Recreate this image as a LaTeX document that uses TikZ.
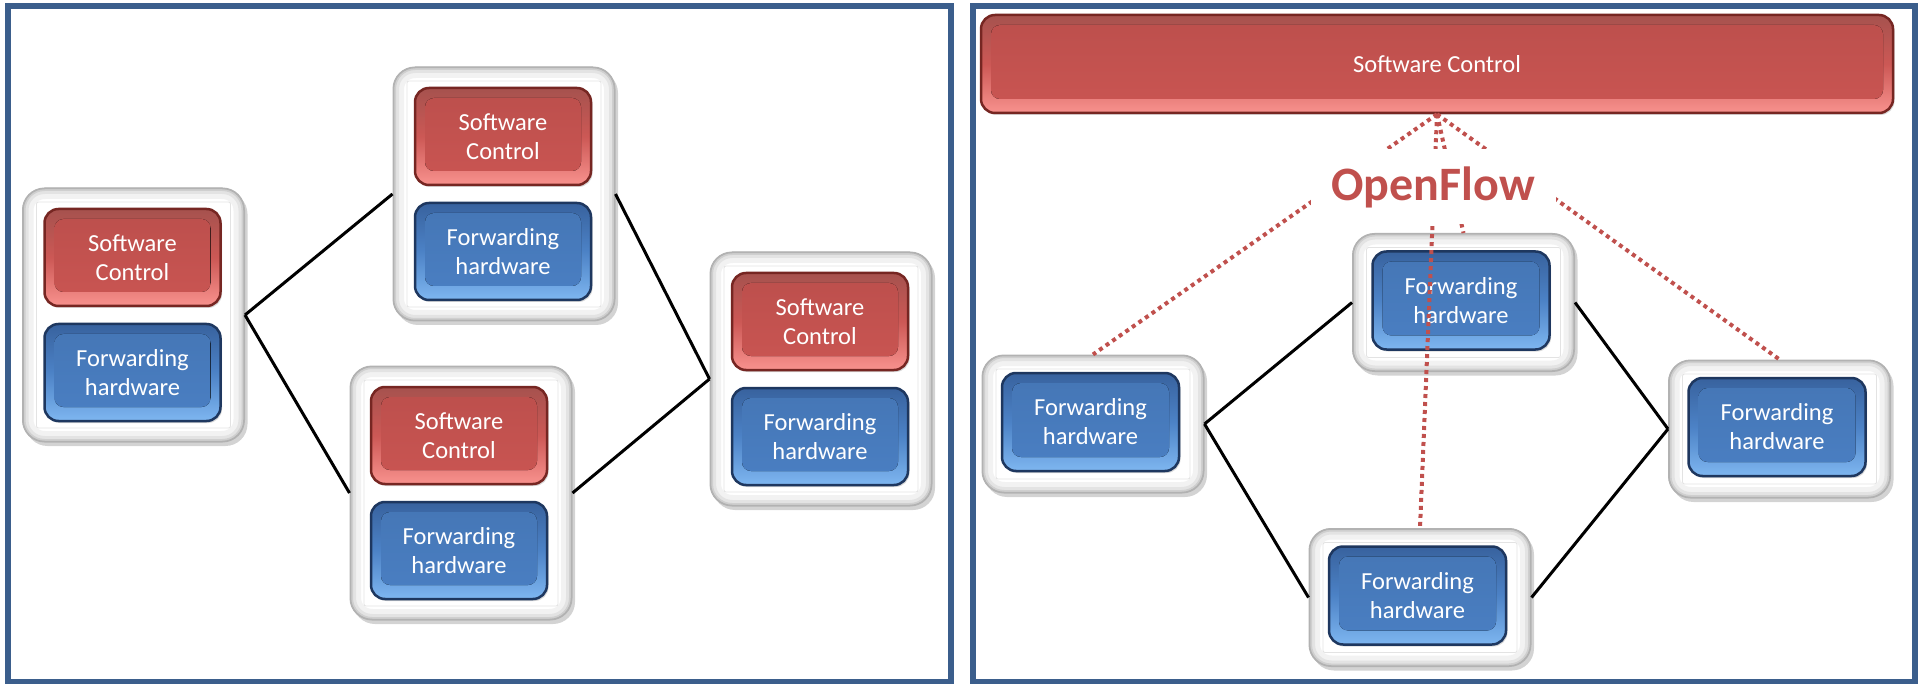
\documentclass[tikz,border=0pt]{standalone}
\usepackage{fontspec}
\newfontfamily\carlito{Carlito}
\usetikzlibrary{calc,shadows}

\definecolor{panelblue}{RGB}{59,94,140}
\definecolor{redtop}{RGB}{166,82,78}
\definecolor{redmid}{RGB}{204,88,85}
\definecolor{redface}{RGB}{202,85,82}
\definecolor{redbot}{RGB}{248,146,142}
\definecolor{redline}{RGB}{118,38,34}
\definecolor{bluetop}{RGB}{56,98,158}
\definecolor{bluemid}{RGB}{76,130,198}
\definecolor{blueface}{RGB}{74,127,195}
\definecolor{bluebot}{RGB}{126,182,240}
\definecolor{blueline}{RGB}{30,55,95}
\definecolor{ofred}{RGB}{192,80,77}

\tikzset{
  panel/.style={draw=panelblue, line width=6pt},
  % white pillow frame around a switch
  frame/.style={rounded corners=22pt, fill=white, draw=gray!60, line width=1pt, inner sep=0pt,
    drop shadow={shadow xshift=3pt, shadow yshift=-4pt, opacity=.35},
    path picture={
      \draw[gray!10, line width=22pt, rounded corners=22pt]
        (path picture bounding box.south west) rectangle (path picture bounding box.north east);
      \draw[gray!22, line width=12pt, rounded corners=22pt]
        (path picture bounding box.south west) rectangle (path picture bounding box.north east);
      \draw[gray!38, line width=6pt, rounded corners=22pt]
        (path picture bounding box.south west) rectangle (path picture bounding box.north east);
      \draw[gray!60, line width=2.5pt, rounded corners=22pt]
        (path picture bounding box.south west) rectangle (path picture bounding box.north east);
      \draw[gray!22, line width=.8pt, rounded corners=2pt]
        ([shift={(14pt,-14pt)}]path picture bounding box.north west) rectangle
        ([shift={(-14pt,14pt)}]path picture bounding box.south east);
    }},
  lframe/.style={frame, minimum width=222pt, minimum height=254pt},
  rframe/.style={frame, minimum width=222pt, minimum height=138pt},
  % glossy bevelled buttons
  btn/.style={rounded corners=14pt, line width=2.5pt, inner sep=0pt, text=white, align=center,
    font=\carlito\fontsize{24.5}{29}\selectfont,
    drop shadow={shadow xshift=1.5pt, shadow yshift=-2pt, opacity=.3}},
  redbtn/.style={btn, draw=redline, top color=redtop, bottom color=redbot, middle color=redmid,
    path picture={
      \fill[rounded corners=9pt, top color=redface!93!black, bottom color=redface]
        ([shift={(10pt,-10pt)}]path picture bounding box.north west) rectangle
        ([shift={(-10pt,14pt)}]path picture bounding box.south east);
    }},
  bluebtn/.style={btn, draw=blueline, top color=bluetop, bottom color=bluebot, middle color=bluemid,
    path picture={
      \fill[rounded corners=9pt, top color=blueface!93!black, bottom color=blueface]
        ([shift={(10pt,-10pt)}]path picture bounding box.north west) rectangle
        ([shift={(-10pt,14pt)}]path picture bounding box.south east);
    }},
  ctrl/.style={redbtn, minimum width=176pt, minimum height=97pt},
  fwd/.style={bluebtn, minimum width=176pt, minimum height=97pt},
  fwdr/.style={bluebtn, minimum width=177pt, minimum height=98pt},
  link/.style={draw=black, line width=3pt},
  ofdots/.style={draw=ofred, line width=4pt, dash pattern=on 4pt off 4pt},
  oflabel/.style={fill=white, text=ofred, inner sep=0pt, minimum width=245pt, minimum height=75pt,
    font=\carlito\bfseries\fontsize{48}{56}\selectfont},
}

\begin{document}
\begin{tikzpicture}[x=1pt, y=-1pt]
\useasboundingbox (0,0) rectangle (1921,684);

% two panels
\draw[panel] (8,6.5) rectangle (950.5,681.5);
\draw[panel] (972.5,6.5) rectangle (1915,681.5);

% ---- left: every switch carries its own control ----
\node[lframe] (fA) at (133.5,315) {};
\node[ctrl] (cA) at (132.5,257.5) {Software\\Control};
\node[fwd]  (hA) at (132.5,372.5) {Forwarding\\hardware};

\node[lframe] (fB) at (504,194) {};
\node[ctrl] (cB) at (503,136.5) {Software\\Control};
\node[fwd]  (hB) at (503,251.5) {Forwarding\\hardware};

\node[lframe] (fC) at (461,493) {};
\node[ctrl] (cC) at (459,435.5) {Software\\Control};
\node[fwd]  (hC) at (459,550.5) {Forwarding\\hardware};

\node[lframe] (fD) at (821,379) {};
\node[ctrl] (cD) at (820,321.5) {Software\\Control};
\node[fwd]  (hD) at (820,436.5) {Forwarding\\hardware};

\draw[link] (fA.east) -- (fB.west);
\draw[link] (fA.east) -- (fC.west);
\draw[link] (fB.east) -- (fD.west);
\draw[link] (fC.east) -- (fD.west);

% ---- right: one shared controller ----
\node[redbtn, minimum width=912pt, minimum height=98pt] (ctl) at (1437,64) {Software Control};

\node[rframe] (r1) at (1093,424) {};
\node[fwdr] (h1) at (1090.5,422) {Forwarding\\hardware};
\node[rframe] (r2) at (1463.5,302.5) {};
\node[fwdr] (h2) at (1461,300.5) {Forwarding\\hardware};
\node[rframe] (r3) at (1420,597.5) {};
\node[fwdr] (h3) at (1417.5,595.5) {Forwarding\\hardware};
\node[rframe] (r4) at (1779.5,429) {};
\node[fwdr] (h4) at (1777,427) {Forwarding\\hardware};

\draw[link] (r1.east) -- (r2.west);
\draw[link] (r1.east) -- (r3.west);
\draw[link] (r2.east) -- (r4.west);
\draw[link] (r3.east) -- (r4.west);

\draw[ofdots] (ctl.south) -- (r1.north);
\draw[ofdots] (ctl.south) -- (r2.north);
\draw[ofdots] (ctl.south) -- (r3.north);
\draw[ofdots] (ctl.south) -- (r4.north);

\node[oflabel] (of) at (1433,187) {OpenFlow};
\end{tikzpicture}
\end{document}
